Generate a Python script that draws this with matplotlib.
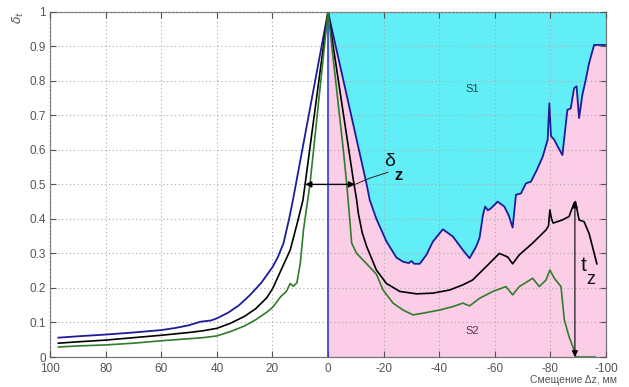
import numpy as np
import matplotlib
matplotlib.use('Agg')
import matplotlib.pyplot as plt
from matplotlib.ticker import FuncFormatter

plt.rcParams['axes.unicode_minus'] = False
plt.rcParams['font.family'] = ['Liberation Sans', 'DejaVu Sans']

# левая ветвь (смещение > 0)
blue_lx = [97, 90, 80, 70, 60, 55, 50, 46, 42, 40, 36, 32, 28, 24, 20, 18, 16, 14, 12.5, 0]
blue_ly = [0.056, 0.060, 0.065, 0.071, 0.078, 0.084, 0.092, 0.102, 0.106, 0.112, 0.128,
           0.150, 0.180, 0.215, 0.26, 0.29, 0.33, 0.40, 0.46, 1.0]
black_lx = [97, 90, 80, 70, 60, 50, 45, 40, 35, 30, 26, 22, 19.8, 17, 15, 13.6, 11, 9, 0]
black_ly = [0.040, 0.044, 0.049, 0.056, 0.063, 0.071, 0.076, 0.083, 0.098, 0.118, 0.14,
            0.172, 0.20, 0.25, 0.285, 0.31, 0.39, 0.455, 1.0]
green_lx = [97, 90, 80, 70, 60, 50, 45, 40, 35, 30, 26, 22, 19.8, 17, 15, 13.6, 12.5,
            11.2, 10, 8.8, 6.5, 0]
green_ly = [0.029, 0.032, 0.035, 0.040, 0.047, 0.053, 0.056, 0.061, 0.074, 0.09, 0.108,
            0.13, 0.145, 0.175, 0.19, 0.213, 0.205, 0.215, 0.27, 0.37, 0.50, 1.0]

# правая ветвь (смещение < 0)
blue_rx = [0, -13.9, -15, -17.4, -21, -24.6, -27, -29, -30, -31, -33, -35.4, -37.7, -41.3,
           -44.9, -48.5, -50.9, -53.3, -54.5, -55.7, -56.5, -57.5, -58.5, -61, -63.4, -65,
           -66.4, -67.6, -69.4, -71.2, -73, -75, -77.2, -79, -79.6, -80.2, -81.4, -82.6,
           -84.3, -86.1, -87.3, -88.5, -89.4, -90.3, -91.5, -92.7, -93.9, -95.7, -100]
blue_ry = [1.0, 0.50, 0.455, 0.40, 0.335, 0.288, 0.276, 0.272, 0.278, 0.27, 0.27, 0.296,
           0.334, 0.37, 0.349, 0.31, 0.286, 0.32, 0.345, 0.41, 0.436, 0.425, 0.43, 0.45,
           0.436, 0.41, 0.375, 0.47, 0.474, 0.503, 0.508, 0.54, 0.58, 0.629, 0.735, 0.64,
           0.629, 0.61, 0.585, 0.716, 0.72, 0.779, 0.784, 0.692, 0.76, 0.803, 0.851, 0.904,
           0.904]
black_rx = [0, -9.1, -10.3, -10.9, -12.3, -13.9, -17.4, -21, -25.8, -31.8, -37.7, -43.7,
            -48.5, -52, -56.9, -61.6, -64.6, -66.4, -68.8, -73.6, -78.4, -79.3, -79.8,
            -80.4, -81, -84.3, -86.7, -88.5, -89, -90.3, -92.1, -93.9, -96.7]
black_ry = [1.0, 0.513, 0.455, 0.416, 0.36, 0.32, 0.252, 0.213, 0.19, 0.183, 0.185, 0.194,
            0.209, 0.223, 0.262, 0.30, 0.29, 0.27, 0.296, 0.33, 0.368, 0.38, 0.426, 0.40,
            0.388, 0.397, 0.407, 0.446, 0.45, 0.397, 0.392, 0.358, 0.27]
green_rx = [0, -5.5, -6.7, -7.9, -8.5, -10.3, -13.9, -17.4, -19.8, -23.4, -27, -30.6,
            -34.2, -40.1, -44.9, -48.5, -50.9, -54.5, -59.3, -64, -66.4, -68.8, -73.6, -76,
            -78.4, -79.8, -81.4, -83.8, -85, -86.7, -88.5, -89.1, -96]
green_ry = [1.0, 0.6, 0.504, 0.39, 0.33, 0.30, 0.27, 0.24, 0.194, 0.156, 0.136, 0.122,
            0.127, 0.136, 0.146, 0.156, 0.148, 0.17, 0.19, 0.204, 0.18, 0.204, 0.228, 0.204,
            0.223, 0.252, 0.228, 0.204, 0.107, 0.059, 0.02, 0.0, 0.0]

xticks = [100, 80, 60, 40, 20, 0, -20, -40, -60, -80, -100]
yticks = [0, 0.1, 0.2, 0.3, 0.4, 0.5, 0.6, 0.7, 0.8, 0.9, 1]

fig = plt.figure(figsize=(6.29, 3.87), dpi=100)
ax = fig.add_axes([0.0795, 0.0775, 0.884, 0.892])

# заливки S1 и S2
ax.fill_between(blue_rx, blue_ry, 1, color='#62eef6', lw=0, zorder=1)
ax.fill_between(blue_rx, 0, blue_ry, color='#fbcde7', lw=0, zorder=1)
ax.axvline(0, color='#2a3ee0', lw=1.2, zorder=3)

blue = '#1c1c9a'
green = '#2f7d2a'
ax.plot(blue_lx, blue_ly, color=blue, lw=1.3, zorder=4)
ax.plot(blue_rx, blue_ry, color=blue, lw=1.3, zorder=4)
ax.plot(black_lx, black_ly, color='k', lw=1.2, zorder=4)
ax.plot(black_rx, black_ry, color='k', lw=1.2, zorder=4)
ax.plot(green_lx, green_ly, color=green, lw=1.2, zorder=4)
ax.plot(green_rx, green_ry, color=green, lw=1.2, zorder=4)

# стрелки и подписи
ax.annotate('', xy=(8.2, 0.5), xytext=(-9.7, 0.5),
            arrowprops=dict(arrowstyle='<|-|>', color='k', lw=1, mutation_scale=9,
                            shrinkA=0, shrinkB=0), zorder=5)
ax.plot([-9.7, -15, -21.5], [0.5, 0.518, 0.535], color='#222', lw=0.7, zorder=5)
ax.text(-22, 0.565, 'δ', fontsize=14, ha='center', va='center', color='#111', zorder=6)
ax.text(-25.5, 0.525, 'z', fontsize=12, ha='center', va='center', color='#111',
        fontweight='bold', zorder=6)

ax.annotate('', xy=(-88.8, 0.0), xytext=(-88.8, 0.45),
            arrowprops=dict(arrowstyle='<|-|>', color='k', lw=0.8, mutation_scale=9,
                            shrinkA=0, shrinkB=0), zorder=5)
ax.text(-91.8, 0.265, 't', fontsize=15, ha='center', va='center', color='#111', zorder=6)
ax.text(-94.6, 0.225, 'z', fontsize=13, ha='center', va='center', color='#111', zorder=6)

ax.text(-52, 0.775, 'S1', fontsize=8, ha='center', va='center', color='#224455', zorder=6)
ax.text(-52, 0.075, 'S2', fontsize=8, ha='center', va='center', color='#553355', zorder=6)

ax.set_xlim(100, -100)
ax.set_ylim(0, 1)
ax.set_xticks(xticks)
ax.set_yticks(yticks)
ax.yaxis.set_major_formatter(FuncFormatter(lambda v, p: f'{v:g}'))
ax.tick_params(direction='in', top=True, right=True, labelsize=8.5, colors='#555',
               length=4, width=0.8, pad=3)
ax.tick_params(axis='x', pad=4.5)
for s in ax.spines.values():
    s.set_color('#777')
    s.set_linewidth(0.9)
ax.set_axisbelow(False)
ax.grid(True, linestyle=(0, (1, 2.5)), color='#aaa', lw=0.8)

fig.text(0.03, 0.955, r'$\delta_t$', rotation=90, fontsize=9, color='#555',
         ha='center', va='center')
fig.text(0.981, 0.019, 'Смещение Δz, мм', fontsize=7.5, color='#555', ha='right',
         va='center')

fig.savefig('out.png', dpi=100)
